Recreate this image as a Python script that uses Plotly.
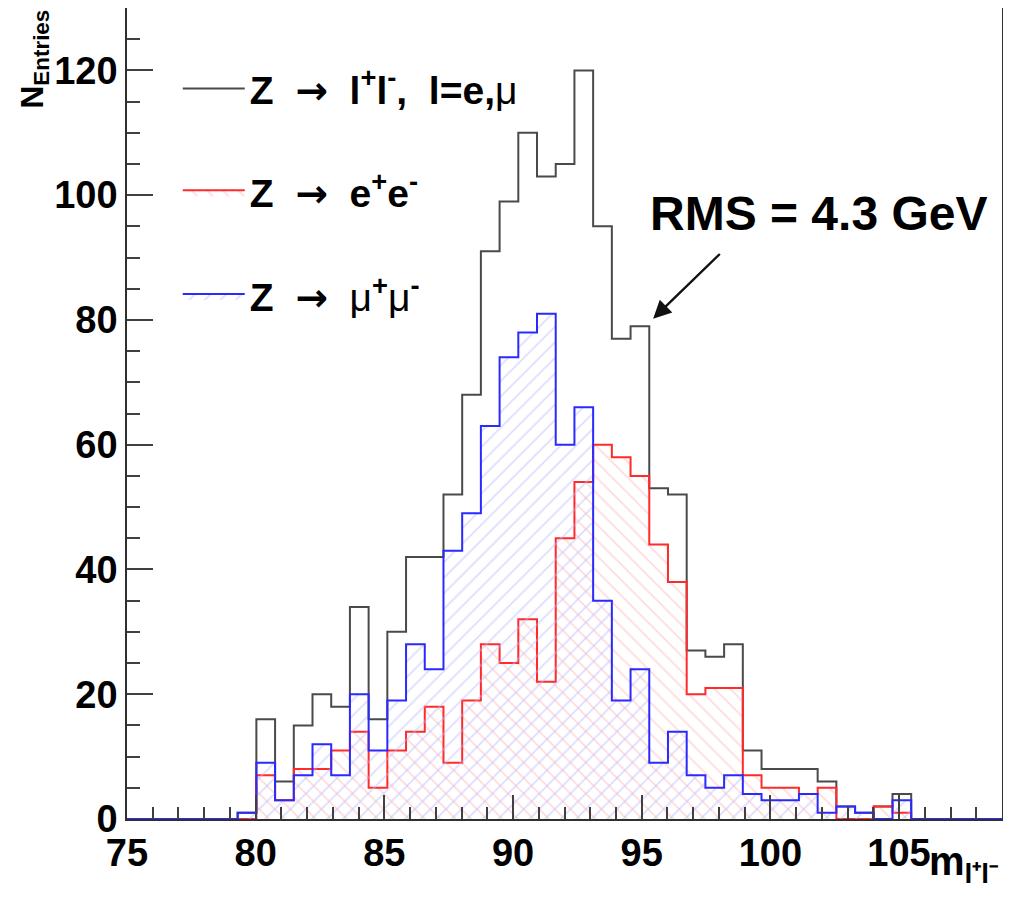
import numpy as np
import plotly.graph_objects as go

# ---- data ----
bin_start = 79.3          # GeV, lower edge of first filled bin
bin_width = 0.727         # GeV
counts_all = [1, 16, 6, 15, 20, 18, 34, 16, 30, 42, 42, 52, 68, 91, 99, 110, 103, 105,
              120, 95, 77, 79, 53, 52, 27, 26, 28, 11, 8, 8, 8, 6, 2, 1, 2, 4]
counts_ee = [0, 7, 3, 8, 8, 11, 14, 5, 11, 14, 18, 9, 19, 28, 25, 32, 22, 45,
             54, 60, 58, 55, 44, 38, 20, 21, 21, 7, 5, 5, 4, 5, 0, 0, 2, 1]
counts_mumu = [1, 9, 3, 7, 12, 7, 20, 11, 19, 28, 24, 43, 49, 63, 74, 78, 81, 60,
               66, 35, 19, 24, 9, 14, 7, 5, 7, 4, 3, 3, 4, 1, 2, 1, 0, 3]
x_range = [75, 109]
y_range = [0, 130]
x_ticks = [75, 80, 85, 90, 95, 100, 105]
y_ticks = [0, 20, 40, 60, 80, 100, 120]
ARROW = "&nbsp;<span style=\"font-family:'DejaVu Sans'\">→</span>&nbsp;"
MU = "<span style=\"font-weight:normal\">μ</span>"
names = ["Z " + ARROW + " l<sup>+</sup>l<sup>-</sup>,  l=e," + MU,
         "Z " + ARROW + " e<sup>+</sup>e<sup>-</sup>",
         "Z " + ARROW + " " + MU + "<sup>+</sup>" + MU + "<sup>-</sup>"]
rms_label = "RMS = 4.3 GeV"

FONT = "Liberation Sans, Arial, Helvetica, sans-serif"


def step_xy(counts):
    edges = bin_start + bin_width * np.arange(len(counts) + 1)
    xs = [x_range[0]] + list(edges) + [x_range[1]]
    ys = [0] + list(counts) + [0, 0]
    return xs, ys


fig = go.Figure()

xa, ya = step_xy(counts_all)
fig.add_trace(go.Scatter(x=xa, y=ya, mode="lines", line_shape="hv",
                         line=dict(color="#4a4a4a", width=2),
                         name=names[0], legendgroup="a", hoverinfo="skip"))

xe, ye = step_xy(counts_ee)
fig.add_trace(go.Scatter(x=xe, y=ye, mode="lines", line_shape="hv",
                         line=dict(color="#ff2a2a", width=2),
                         fill="tozeroy", fillcolor="rgba(0,0,0,0)",
                         fillpattern=dict(shape="\\", fgcolor="#ffb8b8", bgcolor="rgba(0,0,0,0)",
                                          size=11, solidity=0.16),
                         name=names[1], legendgroup="b", hoverinfo="skip"))

xm, ym = step_xy(counts_mumu)
fig.add_trace(go.Scatter(x=xm, y=ym, mode="lines", line_shape="hv",
                         line=dict(color="#2a2aff", width=2),
                         fill="tozeroy", fillcolor="rgba(0,0,0,0)",
                         fillpattern=dict(shape="/", fgcolor="#bcbcff", bgcolor="rgba(0,0,0,0)",
                                          size=11, solidity=0.16),
                         name=names[2], legendgroup="c", hoverinfo="skip"))

axis_common = dict(showline=True, linecolor="#303030", linewidth=1.5, mirror=True,
                   showgrid=False, zeroline=False, ticks="inside", tickcolor="#404040",
                   tickwidth=1.5, automargin=False,
                   tickfont=dict(family=FONT, size=38, color="black", weight="bold"))

fig.update_xaxes(range=x_range, tickvals=x_ticks, ticklen=24,
                 minor=dict(dtick=1, ticks="inside", ticklen=12, tickcolor="#404040", tickwidth=1.5),
                 **axis_common)
fig.update_yaxes(range=y_range, tickvals=y_ticks, ticklen=26,
                 minor=dict(dtick=5, ticks="inside", ticklen=13, tickcolor="#404040", tickwidth=1.5),
                 **axis_common)

head_x = bin_start + 22 * bin_width
head_y = counts_all[21]

# page body adds an 8px offset, so the figure is sized to compensate
fig.update_layout(
    width=1003, height=893,
    margin=dict(l=119, r=9, t=0, b=82),
    paper_bgcolor="white", plot_bgcolor="white",
    showlegend=True,
    legend=dict(x=0.058, y=0.94, xanchor="left", yanchor="top",
                bgcolor="rgba(0,0,0,0)", tracegroupgap=50, itemwidth=62,
                font=dict(family=FONT, size=39, color="black", weight="bold")),
    annotations=[
        dict(text=rms_label, x=0.79, y=0.747, xref="paper", yref="paper",
             showarrow=False, xanchor="center", yanchor="middle",
             font=dict(family=FONT, size=48, color="black", weight="bold")),
        dict(text="", x=head_x + 0.15, y=head_y + 1.2,
             ax=head_x + 2.8, ay=head_y + 11.8,
             xref="x", yref="y", axref="x", ayref="y",
             showarrow=True, arrowhead=2, arrowsize=1.5, arrowwidth=2.4,
             arrowcolor="#111111"),
        dict(text="N<sub>Entries</sub>", x=-0.106, y=1.0, xref="paper", yref="paper",
             textangle=-90, showarrow=False, xanchor="center", yanchor="top",
             font=dict(family=FONT, size=32, color="black", weight="bold")),
        dict(text="m<sub>l⁺l⁻</sub>", x=0.998, y=-0.022, xref="paper", yref="paper",
             showarrow=False, xanchor="right", yanchor="top",
             font=dict(family=FONT, size=40, color="black", weight="bold")),
    ],
)

fig.write_html("out.html")
